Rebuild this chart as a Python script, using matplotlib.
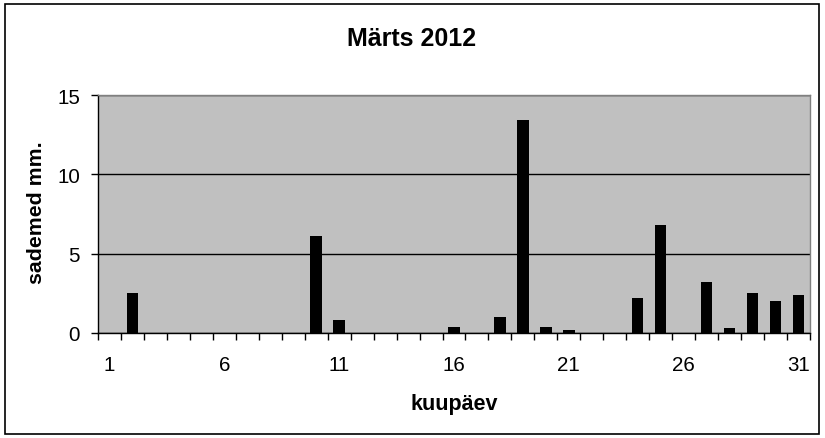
import matplotlib
matplotlib.use("Agg")
import matplotlib.pyplot as plt
from matplotlib.patches import Rectangle

days = list(range(1, 32))
rain = [0, 2.5, 0, 0, 0, 0, 0, 0, 0, 6.1, 0.8, 0, 0, 0, 0, 0.4, 0, 1.0, 13.4, 0.4,
        0.2, 0, 0, 2.2, 6.8, 0, 3.2, 0.3, 2.5, 2.0, 2.4]
x_labels = [1, 6, 11, 16, 21, 26, 31]
y_ticks = [0, 5, 10, 15]
title = "Märts 2012"
xlabel = "kuupäev"
ylabel = "sademed mm."

plt.rcParams['font.family'] = ['Liberation Sans', 'DejaVu Sans']

W, H = 825, 439
fig = plt.figure(figsize=(W / 100, H / 100), dpi=100)
fig.patch.set_facecolor('white')

ax = fig.add_axes([98 / W, 1 - 334 / H, (810 - 98) / W, (334 - 96) / H])
ax.set_facecolor('#C0C0C0')
ax.set_axisbelow(True)
ax.bar(days, rain, width=0.5, color='black', zorder=3)

ax.set_xlim(0.5, 31.5)
ax.set_ylim(0, 15)
ax.set_yticks(y_ticks)
ax.set_yticklabels([str(v) for v in y_ticks], fontsize=14.8)
ax.yaxis.grid(True, color='black', linewidth=1)
ax.tick_params(axis='y', direction='out', length=5, width=1, pad=8, colors='black')

# category boundaries as major ticks (no labels), labels as minor ticks
ax.set_xticks([d - 0.5 for d in days] + [31.5])
ax.set_xticklabels([])
ax.set_xticks(x_labels, minor=True)
ax.set_xticklabels([str(v) for v in x_labels], minor=True, fontsize=14.8)
ax.tick_params(axis='x', which='major', direction='out', length=5, width=1)
ax.tick_params(axis='x', which='minor', length=0, pad=16)

for s in ['left', 'bottom']:
    ax.spines[s].set_color('black')
    ax.spines[s].set_linewidth(1)
for s in ['top', 'right']:
    ax.spines[s].set_color('#808080')
    ax.spines[s].set_linewidth(1)

fig.text(412 / W, 1 - 46 / H, title, ha='center', va='baseline',
         fontsize=18, fontweight='bold')
fig.text(454 / W, 1 - 410 / H, xlabel, ha='center', va='baseline',
         fontsize=15.5, fontweight='bold')
fig.text(36 / W, 1 - 213 / H, ylabel, ha='center', va='center', rotation=90,
         fontsize=15.3, fontweight='bold')

fig.patches.append(Rectangle((4.5 / W, 1 - 434.5 / H), (819 - 4.5) / W, (434.5 - 5) / H,
                             transform=fig.transFigure, fill=False,
                             edgecolor='black', linewidth=1.2))

fig.savefig('out.png', dpi=100)
